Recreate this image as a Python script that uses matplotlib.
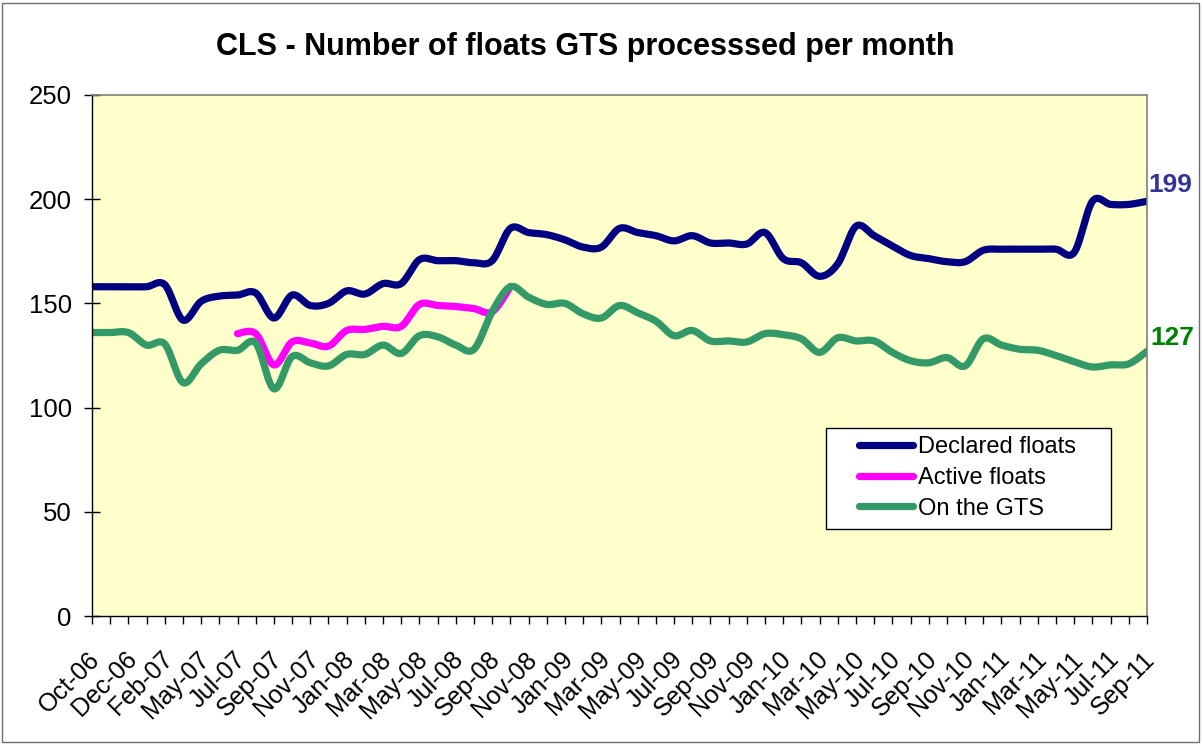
import numpy as np
import matplotlib.pyplot as plt
from matplotlib.patches import Rectangle
from matplotlib.lines import Line2D
from matplotlib.transforms import ScaledTranslation

plt.rcParams['font.family'] = ['Liberation Sans', 'DejaVu Sans']

MONTHS = [
    'Oct-06', 'Nov-06', 'Dec-06', 'Jan-07', 'Feb-07', 'Apr-07', 'May-07',
    'Jun-07', 'Jul-07', 'Aug-07', 'Sep-07', 'Oct-07', 'Nov-07', 'Dec-07',
    'Jan-08', 'Feb-08', 'Mar-08', 'Apr-08', 'May-08', 'Jun-08', 'Jul-08',
    'Aug-08', 'Sep-08', 'Oct-08', 'Nov-08', 'Dec-08', 'Jan-09', 'Feb-09',
    'Mar-09', 'Apr-09', 'May-09', 'Jun-09', 'Jul-09', 'Aug-09', 'Sep-09',
    'Oct-09', 'Nov-09', 'Dec-09', 'Jan-10', 'Feb-10', 'Mar-10', 'Apr-10',
    'May-10', 'Jun-10', 'Jul-10', 'Aug-10', 'Sep-10', 'Oct-10', 'Nov-10',
    'Dec-10', 'Jan-11', 'Feb-11', 'Mar-11', 'Apr-11', 'May-11', 'Jun-11',
    'Jul-11', 'Aug-11', 'Sep-11',
]

DECLARED = [
    158, 158, 158, 158, 159, 142, 151, 153.5, 154, 155,
    143, 154, 149, 150, 156, 154.5, 159.5, 159.5, 171, 170.5,
    170.5, 169.5, 170.5, 186, 184, 183, 180.5, 177, 177, 186,
    184, 182.5, 180, 182.5, 179, 179, 178.5, 184, 171.5, 169.5,
    163, 169, 187, 182.5, 177.5, 173, 171.5, 170, 170, 175.5,
    176, 176, 176, 176, 174.5, 199, 197.5, 197.5, 199,
]

# active floats were only reported from Jul-07 to Oct-08
ACTIVE_START = 8
ACTIVE = [
    135.5, 135.5, 120.5, 131.5, 131, 129.5, 137, 137.5, 139, 139,
    149.5, 149, 148.5, 147.5, 146, 158,
]

ON_GTS = [
    136, 136, 136, 130, 130.5, 112, 121, 127.5, 127.5, 131,
    109, 124.5, 121.5, 120, 125.5, 125.5, 130, 126, 134.5, 134,
    130, 128, 146, 158, 153, 149.5, 150, 145, 143, 149,
    145.5, 141.5, 134.5, 137, 132, 132, 131.5, 135.5, 135, 133,
    126.5, 133.5, 132, 132, 126.5, 122.5, 121.5, 124, 120, 133,
    130, 128, 127.5, 125, 122, 119.5, 120.5, 121, 127,
]

NAVY = '#000080'
MAGENTA = '#FF00FF'
SEA_GREEN = '#339966'
PLOT_BG = '#FFFFCC'


def smooth(x, y, steps=24):
    # spreadsheet-style smoothed line: Catmull-Rom segments as cubic Beziers
    p = np.column_stack([x, y]).astype(float)
    ext = np.vstack([p[0], p, p[-1]])
    t = np.linspace(0, 1, steps)[:, None]
    out = []
    for i in range(len(p) - 1):
        p0, p3 = ext[i + 1], ext[i + 2]
        p1 = p0 + (ext[i + 2] - ext[i]) / 6
        p2 = p3 - (ext[i + 3] - ext[i + 1]) / 6
        seg = ((1 - t) ** 3 * p0 + 3 * (1 - t) ** 2 * t * p1
               + 3 * (1 - t) * t ** 2 * p2 + t ** 3 * p3)
        out.append(seg if i == 0 else seg[1:])
    out = np.vstack(out)
    return out[:, 0], out[:, 1]


fig = plt.figure(figsize=(12.03, 7.44), dpi=100)
ax = fig.add_axes([92 / 1203, 1 - 616 / 744, 1055 / 1203, 521 / 744])
ax.set_facecolor(PLOT_BG)

x = np.arange(len(MONTHS))
x_active = np.arange(ACTIVE_START, ACTIVE_START + len(ACTIVE))

line_kw = dict(lw=5.2, solid_capstyle='round', solid_joinstyle='round')
ax.plot(*smooth(x, DECLARED), color=NAVY, **line_kw)
ax.plot(*smooth(x_active, ACTIVE), color=MAGENTA, **line_kw)
ax.plot(*smooth(x, ON_GTS), color=SEA_GREEN, **line_kw)

ax.set_xlim(0, len(MONTHS) - 1)
ax.set_ylim(0, 250)
ax.set_yticks(range(0, 251, 50))
ax.set_xticks(x)
ax.set_xticklabels([m if i % 2 == 0 else '' for i, m in enumerate(MONTHS)],
                   rotation=45, ha='right', va='top', rotation_mode='anchor')

ax.tick_params(axis='y', direction='inout', length=11, width=1,
               labelsize=18.5, pad=9)
ax.tick_params(axis='x', direction='out', length=6, width=1,
               labelsize=18, pad=12)

# nudge the slanted month labels a little down and left
shift = ScaledTranslation(-4 / 100, -6 / 100, fig.dpi_scale_trans)
for lbl in ax.get_xticklabels():
    lbl.set_transform(lbl.get_transform() + shift)

for side in ('top', 'right'):
    ax.spines[side].set_color('#808080')
    ax.spines[side].set_linewidth(1.2)
for side in ('left', 'bottom'):
    ax.spines[side].set_color('black')
    ax.spines[side].set_linewidth(1)

# last values written next to the right edge
ax.annotate(f'{DECLARED[-1]:.0f}', xy=(x[-1], DECLARED[-1]),
            xytext=(1, 11.5), textcoords='offset points',
            ha='left', va='center', fontsize=19, fontweight='bold',
            color='#333399', annotation_clip=False)
ax.annotate(f'{ON_GTS[-1]:.0f}', xy=(x[-1], ON_GTS[-1]),
            xytext=(2.5, 9.5), textcoords='offset points',
            ha='left', va='center', fontsize=19, fontweight='bold',
            color='#008000', annotation_clip=False)

# legend box drawn separately so it can keep the wide left margin
ax.add_patch(Rectangle((0.6957, 0.167), 0.2701, 0.194,
                       transform=ax.transAxes, facecolor='white',
                       edgecolor='black', lw=1, zorder=4))
handles = [
    Line2D([], [], color=NAVY, lw=5.2, solid_capstyle='round'),
    Line2D([], [], color=MAGENTA, lw=5.2, solid_capstyle='round'),
    Line2D([], [], color=SEA_GREEN, lw=5.2, solid_capstyle='round'),
]
leg = ax.legend(handles, ['Declared floats', 'Active floats', 'On the GTS'],
                loc='center left', bbox_to_anchor=(0.727, 0.2649),
                fontsize=17, frameon=False, handlelength=2.29,
                handletextpad=0.2, labelspacing=0.37,
                borderpad=0, borderaxespad=0)
leg.set_zorder(5)

fig.text(585 / 1203, 1 - 47 / 744,
         'CLS - Number of floats GTS processsed per month',
         ha='center', va='center', fontsize=22, fontweight='bold')

fig.patches.append(Rectangle((2 / 1203, 2 / 744), 1197 / 1203, 739 / 744,
                             transform=fig.transFigure, fill=False,
                             edgecolor='#707070', lw=1))

fig.savefig('out.png', dpi=100)
